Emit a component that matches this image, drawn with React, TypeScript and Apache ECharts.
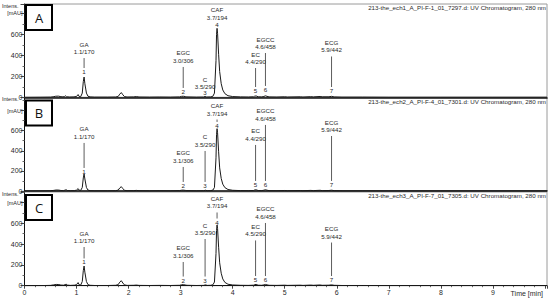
import React, { useEffect, useRef } from 'react';
import * as echarts from 'echarts';

// ---------- data ----------
const panelLetters = ['A', 'B', 'C'];
const fileTitles = [
  '213-the_ech1_A_PI-F-1_01_7297.d: UV Chromatogram, 280 nm',
  '213-the_ech2_A_PI-F-4_01_7301.d: UV Chromatogram, 280 nm',
  '213-the_ech3_A_PI-F-7_01_7305.d: UV Chromatogram, 280 nm',
];
const yAxisMax = [889, 930, 901];
const xAxisMax = 10.04;

const traceA: number[][] = [
  [0, 0], [0.3, 1], [0.5, 2], [0.55, 5], [0.6, 10], [0.65, 11], [0.7, 6], [0.74, 4], [0.77, 8], [0.79, 14], [0.81, 5],
  [0.87, 3], [0.95, 4], [1.0, 8], [1.03, 26], [1.05, 8], [1.08, 6], [1.11, 40], [1.13, 150], [1.145, 193], [1.16, 130],
  [1.19, 40], [1.22, 10], [1.26, 4], [1.35, 2], [1.6, 2], [1.75, 3], [1.8, 8], [1.83, 30], [1.86, 45], [1.89, 24],
  [1.92, 7], [1.97, 3], [2.1, 4], [2.15, 7], [2.2, 3], [2.4, 2], [2.6, 3], [2.8, 2], [2.98, 4], [3.02, 9], [3.05, 10],
  [3.09, 7], [3.12, 4], [3.3, 2], [3.44, 3], [3.47, 8], [3.5, 3], [3.58, 4], [3.62, 10], [3.65, 40], [3.68, 350],
  [3.69, 600], [3.70, 657], [3.71, 610], [3.73, 410], [3.75, 245], [3.78, 130], [3.81, 70], [3.85, 35], [3.91, 15],
  [4.0, 7], [4.15, 4], [4.3, 3], [4.4, 5], [4.42, 10], [4.45, 13], [4.49, 5], [4.56, 4], [4.6, 8], [4.63, 14],
  [4.66, 9], [4.7, 4], [4.85, 3], [5.0, 5], [5.05, 3], [5.3, 5], [5.35, 3], [5.5, 6], [5.55, 4], [5.68, 8], [5.72, 5],
  [5.85, 5], [5.9, 9], [5.95, 4], [6.1, 2], [6.5, 2], [7, 1], [8, 1], [9, 1], [10.04, 1],
];
const traceB: number[][] = [
  [0, 0], [0.3, 1], [0.5, 2], [0.56, 6], [0.61, 10], [0.66, 9], [0.7, 5], [0.75, 4], [0.78, 9], [0.8, 13], [0.82, 5],
  [0.88, 3], [0.96, 4], [1.0, 9], [1.03, 24], [1.05, 8], [1.08, 6], [1.11, 35], [1.13, 130], [1.145, 169], [1.16, 120],
  [1.19, 35], [1.22, 9], [1.26, 4], [1.35, 2], [1.6, 2], [1.75, 3], [1.8, 9], [1.83, 30], [1.86, 43], [1.89, 24],
  [1.92, 7], [1.97, 3], [2.1, 4], [2.15, 6], [2.2, 3], [2.4, 2], [2.6, 3], [2.8, 2], [2.98, 4], [3.02, 8], [3.05, 9],
  [3.09, 6], [3.12, 4], [3.3, 2], [3.44, 3], [3.48, 8], [3.51, 3], [3.58, 4], [3.62, 9], [3.65, 35], [3.68, 330],
  [3.69, 560], [3.70, 620], [3.71, 580], [3.73, 390], [3.75, 230], [3.78, 125], [3.81, 68], [3.85, 34], [3.91, 15],
  [4.0, 7], [4.15, 4], [4.3, 3], [4.4, 5], [4.42, 10], [4.45, 12], [4.49, 5], [4.56, 4], [4.6, 8], [4.63, 13],
  [4.66, 8], [4.7, 4], [4.85, 3], [5.0, 5], [5.05, 3], [5.3, 5], [5.35, 3], [5.5, 6], [5.55, 4], [5.68, 7], [5.72, 4],
  [5.85, 5], [5.9, 8], [5.95, 4], [6.1, 2], [6.5, 2], [7, 1], [8, 1], [9, 1], [10.04, 1],
];
const traceC: number[][] = [
  [0, 0], [0.3, 1], [0.5, 3], [0.56, 8], [0.61, 12], [0.66, 11], [0.7, 6], [0.75, 5], [0.78, 10], [0.8, 15], [0.82, 6],
  [0.88, 3], [0.96, 5], [1.0, 10], [1.03, 30], [1.05, 9], [1.08, 6], [1.11, 40], [1.13, 145], [1.145, 189], [1.16, 130],
  [1.19, 40], [1.22, 10], [1.26, 4], [1.35, 2], [1.6, 2], [1.75, 4], [1.8, 10], [1.83, 34], [1.86, 48], [1.89, 26],
  [1.92, 8], [1.97, 3], [2.1, 4], [2.15, 6], [2.2, 3], [2.4, 2], [2.6, 3], [2.8, 2], [2.98, 4], [3.02, 9], [3.05, 10],
  [3.09, 7], [3.12, 4], [3.3, 2], [3.44, 3], [3.48, 8], [3.51, 3], [3.58, 4], [3.62, 9], [3.65, 35], [3.68, 310],
  [3.69, 530], [3.70, 584], [3.71, 550], [3.73, 370], [3.75, 220], [3.78, 120], [3.81, 65], [3.85, 32], [3.91, 14],
  [4.0, 7], [4.15, 4], [4.3, 3], [4.4, 5], [4.42, 10], [4.45, 12], [4.49, 5], [4.56, 4], [4.6, 8], [4.63, 12],
  [4.66, 8], [4.7, 4], [4.85, 3], [5.0, 5], [5.05, 3], [5.3, 5], [5.35, 3], [5.5, 6], [5.55, 4], [5.68, 7], [5.72, 4],
  [5.85, 5], [5.9, 8], [5.95, 4], [6.1, 2], [6.5, 2], [7, 1], [8, 1], [9, 1], [10.04, 1],
];
const traces = [traceA, traceB, traceC];

const peakNames = ['GA', 'EGC', 'C', 'CAF', 'EC', 'EGCC', 'ECG'];
const peakNumbers = ['1', '2', '3', '4', '5', '6', '7'];
const peakTimes = [1.145, 3.05, 3.47, 3.70, 4.44, 4.63, 5.90];
const peakLabelsA = ['1.1/170', '3.0/306', '3.5/290', '3.7/194', '4.4/290', '4.6/458', '5.9/442'];
const peakLabelsB = ['1.1/170', '3.1/306', '3.5/290', '3.7/194', '4.4/290', '4.6/458', '5.9/442'];
const peakLabelsC = ['1.1/170', '3.1/306', '3.5/290', '3.7/194', '4.5/290', '4.6/458', '5.9/442'];
const peakLabels = [peakLabelsA, peakLabelsB, peakLabelsC];
// intensity (mAU) of the top and the bottom of each annotation leader line
const leaderTopA = [374, 289, 38, 700, 279, 422, 389];
const leaderBottomA = [279, 89, 79, 725, 98, 108, 98];
const leaderTopB = [478, 239, 398, 711, 458, 657, 547];
const leaderBottomB = [229, 90, 90, 687, 100, 100, 100];
const leaderTopC = [372, 228, 449, 704, 435, 603, 415];
const leaderBottomC = [262, 88, 88, 646, 93, 93, 93];
const leaderTops = [leaderTopA, leaderTopB, leaderTopC];
const leaderBottoms = [leaderBottomA, leaderBottomB, leaderBottomC];

// ---------- layout ----------
const gridLeft = 24.5;
const gridRight = 3;
const panelTops = [4, 97.5, 192];
const panelHeights = [93.3, 93.5, 93.7];
const FONT = 'Liberation Sans, Arial, sans-serif';
const TXT = '#2a2a2a';

export default function App() {
  const ref = useRef<HTMLDivElement>(null);
  useEffect(() => {
    document.body.style.margin = '0';
    if (!ref.current) return;
    const chart = echarts.init(ref.current, null, { renderer: 'svg' });

    const grids: any[] = [];
    const xAxes: any[] = [];
    const yAxes: any[] = [];
    const series: any[] = [];
    const graphic: any[] = [];

    for (let p = 0; p < 3; p++) {
      const isLast = p === 2;
      grids.push({
        left: gridLeft, right: gridRight, top: panelTops[p], height: panelHeights[p],
        show: true, borderColor: '#9a9a9a', borderWidth: 1, backgroundColor: 'transparent',
      });
      xAxes.push({
        type: 'value', gridIndex: p, min: 0, max: xAxisMax, interval: 1,
        axisLine: { show: true, onZero: false, lineStyle: { color: '#111', width: isLast ? 1 : 1.6 } },
        axisTick: { show: isLast, length: 3, lineStyle: { color: '#444' } },
        minorTick: { show: isLast, splitNumber: 5, length: 1.5, lineStyle: { color: '#666' } },
        axisLabel: {
          show: isLast, fontSize: 7, color: TXT, fontFamily: FONT, margin: 3,
          formatter: (v: number) => (v >= 10 ? '' : String(v)),
        },
        splitLine: { show: false },
      });
      yAxes.push({
        type: 'value', gridIndex: p, min: 0, max: yAxisMax[p], interval: 200,
        axisLine: { show: true, lineStyle: { color: '#111', width: 1 } },
        axisTick: { show: true, length: 4, lineStyle: { color: '#444' } },
        minorTick: { show: true, splitNumber: 2, length: 2, lineStyle: { color: '#666' } },
        axisLabel: {
          fontSize: 7, color: TXT, fontFamily: FONT, margin: 2,
          formatter: (v: number) => (v === 800 ? '{u|[mAU]}' : v > 800 ? '' : String(v)),
          rich: { u: { fontSize: 5.5, fontFamily: FONT, color: TXT } },
        },
        splitLine: { show: false },
      });
      series.push({
        type: 'line', xAxisIndex: p, yAxisIndex: p, data: traces[p], showSymbol: false,
        lineStyle: { color: '#1a1a1a', width: 1 }, silent: true, z: 3,
      });
      const names = peakNames;
      const rts = peakLabels[p];
      series.push({
        type: 'custom', xAxisIndex: p, yAxisIndex: p, clip: false, z: 4, silent: true,
        encode: { x: 0, y: 1 },
        data: peakTimes.map((t, i) => [t, leaderTops[p][i], leaderBottoms[p][i]]),
        renderItem: (params: any, api: any) => {
          const i = params.dataIndex;
          const t = api.value(0);
          const pt = api.coord([t, api.value(1)]);
          const pb = api.coord([t, api.value(2)]);
          const x = pt[0];
          const ts = { align: 'center', verticalAlign: 'middle', fontSize: 6.2, fill: TXT, fontFamily: FONT };
          const children: any[] = [
            { type: 'text', style: { ...ts, text: names[i], x, y: pt[1] - 14 } },
            { type: 'text', style: { ...ts, text: rts[i], x, y: pt[1] - 6.5 } },
          ];
          if (pb[1] > pt[1] + 0.5) {
            children.push({
              type: 'line', shape: { x1: x, y1: pt[1], x2: x, y2: pb[1] },
              style: { stroke: '#333', lineWidth: 0.8 },
            });
          }
          children.push({ type: 'text', style: { ...ts, text: peakNumbers[i], x, y: pb[1] + 3.5 } });
          return { type: 'group', children };
        },
      });

      const top = panelTops[p];
      const boxTop = p === 0 ? top + 1 : top + 3;
      graphic.push({
        type: 'rect', shape: { x: 26, y: boxTop, width: 26, height: 25 },
        style: { fill: '#fff', stroke: '#000', lineWidth: 2 }, z: 10,
      });
      graphic.push({
        type: 'text', x: 39, y: boxTop + 12.8, z: 11,
        style: { text: panelLetters[p], fontSize: 13, fontFamily: 'Open Sans, sans-serif', fill: '#111', align: 'center', verticalAlign: 'middle' },
      });
      graphic.push({
        type: 'text', x: 546, y: top + 3.5, z: 11,
        style: { text: fileTitles[p], fontSize: 6.2, fontFamily: FONT, fill: TXT, align: 'right', verticalAlign: 'middle' },
      });
      graphic.push({
        type: 'text', x: 2, y: top + 1.8, z: 11,
        style: { text: 'Intens.', fontSize: 5.5, fontFamily: FONT, fill: TXT, align: 'left', verticalAlign: 'middle' },
      });
    }
    graphic.push({
      type: 'text', x: 543, y: 293, z: 11,
      style: { text: 'Time [min]', fontSize: 7, fontFamily: FONT, fill: TXT, align: 'right', verticalAlign: 'middle' },
    });

    chart.setOption({
      animation: false,
      backgroundColor: '#fff',
      grid: grids,
      xAxis: xAxes,
      yAxis: yAxes,
      series,
      graphic,
    });
    return () => chart.dispose();
  }, []);
  return <div ref={ref} style={{ width: 550, height: 300, position: 'absolute', left: 0, top: 0 }} />;
}
